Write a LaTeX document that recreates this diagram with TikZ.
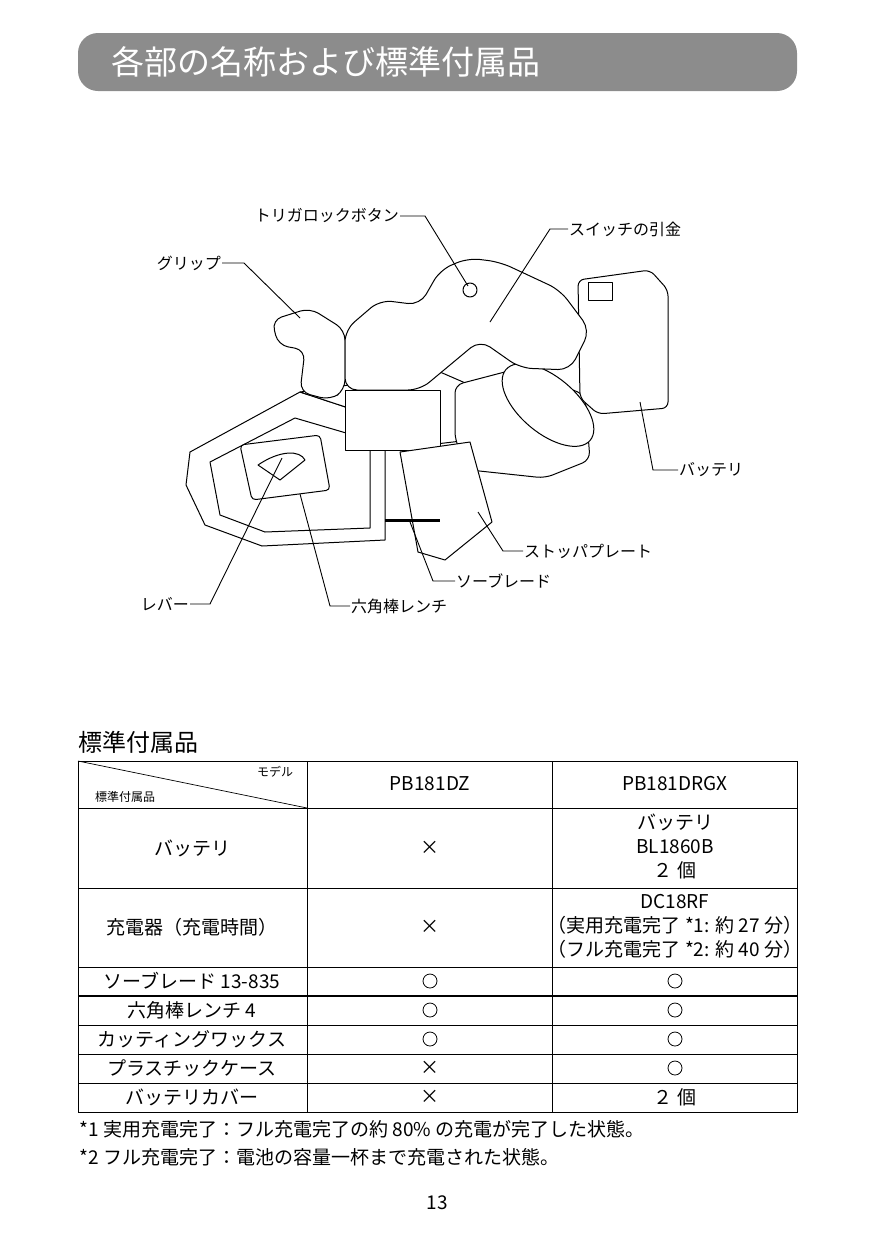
\documentclass[tikz,border=0pt]{standalone}
\usepackage{fontspec}
\setmainfont{Noto Sans CJK JP}
\usetikzlibrary{positioning,calc}
\definecolor{barGray}{HTML}{8C8C8C}
\tikzset{
  lbl/.style={inner sep=1pt,font=\fontsize{16}{18}\selectfont},
  leader/.style={line width=0.9pt},
  cell/.style={font=\fontsize{19}{24}\selectfont,align=center,inner sep=0pt},
  part/.style={draw=black,line width=1pt,fill=white,line join=round},
  tline/.style={line width=0.7pt},
}
\begin{document}
\begin{tikzpicture}[x=1pt,y=-1pt]
  \useasboundingbox (0,0) rectangle (874,1240);

  % title bar
  \fill[barGray,rounded corners=20pt] (78,33) rectangle (797,91);
  \node[anchor=west,text=white,font=\fontsize{33}{36}\selectfont] (title) at (108,62) {各部の名称および標準付属品};

  % band saw (rough)
  \draw[part] (190,452) -- (300,392) -- (385,420) -- (385,540) -- (262,546) -- (205,525) -- (186,485) -- cycle;
  \draw[part] (210,462) -- (295,418) -- (370,440) -- (370,528) -- (265,532) -- (220,515) -- cycle;
  \draw[part,rounded corners=4pt] (240,445) -- (320,435) -- (330,490) -- (252,500) -- cycle;
  \draw[part] (258,465) .. controls (280,450) and (300,450) .. (305,460) -- (280,480) -- cycle;
  \draw[part] (300,392) -- (440,372) -- (470,385) -- (470,440) -- (385,450) -- (385,420) -- cycle;
  \draw[part,rounded corners=8pt] (455,385) -- (520,368) -- (585,395) -- (590,460) -- (545,478) -- (470,470) -- (455,440) -- cycle;
  \draw[part,rotate around={-40:(548,405)}] (548,405) ellipse (55 and 28);
  \draw[part,rounded corners=6pt] (578,280) -- (650,270) -- (668,290) -- (668,408) -- (598,414) -- (580,398) -- cycle;
  \draw[part] (588,282) rectangle (612,300);
  \draw[part,rounded corners=10pt] (272,320) -- (310,308) -- (345,330) -- (345,390) -- (330,400) -- (300,392) -- (305,350) -- (278,345) -- cycle;
  \draw[part,rounded corners=12pt] (345,330) -- (380,300) -- (420,305) -- (440,270) -- (468,258) -- (500,262) -- (560,290) -- (590,330) -- (570,370) -- (520,368) -- (480,340) -- (420,390) -- (345,390) -- cycle;
  \draw[part] (470,290) circle (7);
  \draw[part] (345,390) rectangle (440,450);
  \draw[part] (400,452) -- (470,442) -- (492,522) -- (445,560) -- (418,552) -- cycle;
  \draw[line width=3pt] (385,520) -- (440,520);

  % parts labels
  \node[lbl,anchor=east] (lock) at (400,216) {トリガロックボタン};
  \node[lbl,anchor=west] (trig) at (568,229) {スイッチの引金};
  \node[lbl,anchor=east] (grip) at (222,263) {グリップ};
  \node[lbl,anchor=west] (batt) at (678,470) {バッテリ};
  \node[lbl,anchor=west] (stop) at (523,551) {ストッパプレート};
  \node[lbl,anchor=west] (blade) at (455,581) {ソーブレード};
  \node[lbl,anchor=east] (lever) at (190,604) {レバー};
  \node[lbl,anchor=west] (wrench) at (350,606) {六角棒レンチ};
  \coordinate (lockP) at (468,286);
  \coordinate (trigP) at (490,322);
  \coordinate (gripP) at (300,318);
  \coordinate (battP) at (640,402);
  \coordinate (stopP) at (478,512);
  \coordinate (bladeP) at (410,522);
  \coordinate (leverP) at (282,458);
  \coordinate (wrenchP) at (300,494);
  \draw[leader] (lock.east) -- ++(25,0) -- (lockP);
  \draw[leader] (trig.west) -- ++(-18,0) -- (trigP);
  \draw[leader] (grip.east) -- ++(22,0) -- (gripP);
  \draw[leader] (batt.west) -- ++(-25,0) -- (battP);
  \draw[leader] (stop.west) -- ++(-20,0) -- (stopP);
  \draw[leader] (blade.west) -- ++(-22,0) -- (bladeP);
  \draw[leader] (lever.east) -- ++(20,0) -- (leverP);
  \draw[leader] (wrench.west) -- ++(-20,0) -- (wrenchP);

  % accessories table
  \node[anchor=west,font=\fontsize{24}{28}\selectfont] (thead) at (75,742) {標準付属品};
  \draw[tline] (78,761) rectangle (797,1112);
  \foreach \y in {808,888,967,1025,1054,1083} \draw[tline] (78,\y) -- (797,\y);
  \draw[line width=1.4pt] (78,996) -- (797,996);
  \foreach \x in {307,552} \draw[tline] (\x,761) -- (\x,1112);
  \draw[tline] (78,761) -- (307,808);
  \node[font=\fontsize{12}{14}\selectfont] (hModel) at (275,772) {モデル};
  \node[font=\fontsize{12}{14}\selectfont] (hAcc) at (125,797) {標準付属品};
  \node[cell] (c12) at (430,784) {PB181DZ};
  \node[cell] (c13) at (675,784) {PB181DRGX};
  \node[cell] (c21) at (192,848) {バッテリ};
  \node[cell] (c22) at (430,848) {×};
  \node[cell] (c23) at (675,846) {バッテリ\\BL1860B\\２ 個};
  \node[cell] (c31) at (192,927) {充電器（充電時間）};
  \node[cell] (c32) at (430,927) {×};
  \node[cell] (c33) at (675,926) {DC18RF\\（実用充電完了 *1: 約 27 分）\\（フル充電完了 *2: 約 40 分）};
  \node[cell] (c41) at (192,981) {ソーブレード 13-835};
  \node[cell] (c51) at (192,1010) {六角棒レンチ 4};
  \node[cell] (c61) at (192,1039) {カッティングワックス};
  \node[cell] (c71) at (192,1068) {プラスチックケース};
  \node[cell] (c81) at (192,1097) {バッテリカバー};
  \foreach \y in {981,1010,1039} {
    \draw[line width=0.8pt] (430,\y) circle (7);
    \draw[line width=0.8pt] (675,\y) circle (7);
  }
  \draw[line width=0.8pt] (675,1068) circle (7);
  \node[cell] (c72) at (430,1068) {×};
  \node[cell] (c82) at (430,1097) {×};
  \node[cell] (c83) at (675,1097) {２ 個};

  % notes
  \node[anchor=west,font=\fontsize{19}{22}\selectfont] (note1) at (76,1129) {*1 実用充電完了：フル充電完了の約 80\% の充電が完了した状態。};
  \node[anchor=west,font=\fontsize{19}{22}\selectfont] (note2) at (76,1157) {*2 フル充電完了：電池の容量一杯まで充電された状態。};
  \node[font=\fontsize{19}{22}\selectfont] (page) at (437,1203) {13};
\end{tikzpicture}
\end{document}
